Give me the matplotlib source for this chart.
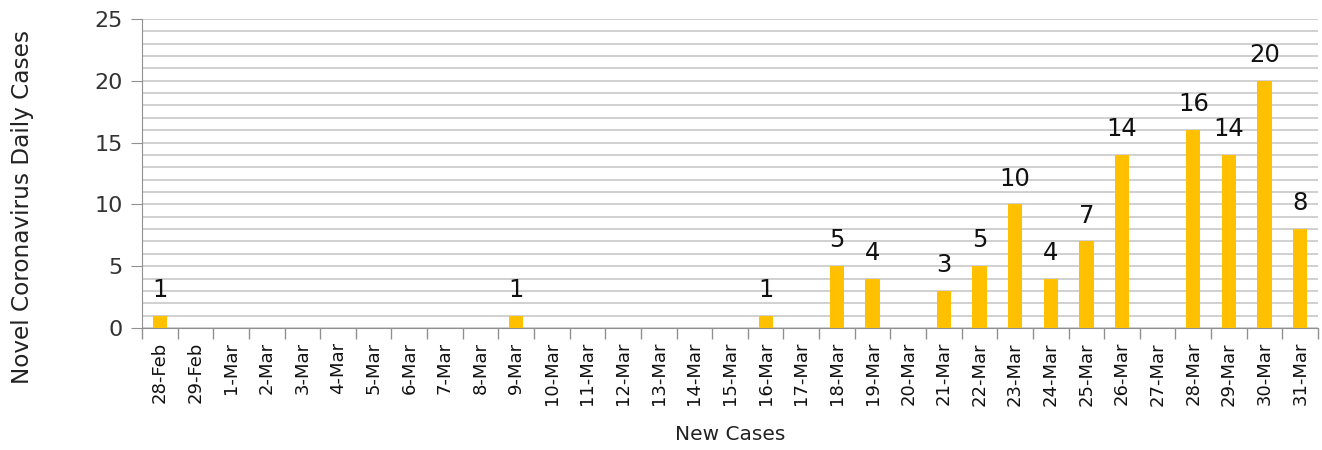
import numpy as np
import matplotlib.pyplot as plt
from matplotlib.ticker import MultipleLocator

dates = ["28-Feb", "29-Feb"] + ["%d-Mar" % d for d in range(1, 32)]
cases = [1, 0, 0, 0, 0, 0, 0, 0, 0, 0, 1, 0, 0, 0, 0, 0, 0, 1, 0,
         5, 4, 0, 3, 5, 10, 4, 7, 14, 0, 16, 14, 20, 8]

plt.rcParams['font.family'] = ['DejaVu Sans']

fig = plt.figure(figsize=(13.22, 4.5), dpi=100)
ax = fig.add_axes([0.1074, 0.271, 0.8896, 0.687])

x = np.arange(len(dates))
bars = ax.bar(x, cases, width=0.4, color='#FFC000', zorder=3)

# value labels only where there were cases
for xi, v in zip(x, cases):
    if v > 0:
        ax.annotate(str(v), (xi, v), xytext=(0, 10), textcoords='offset points',
                    ha='center', va='bottom', fontsize=17.5, color='#111111')

ax.set_xlim(-0.5, len(dates) - 0.5)
ax.set_ylim(0, 25)
ax.yaxis.set_major_locator(MultipleLocator(5))
ax.yaxis.set_minor_locator(MultipleLocator(1))
ax.grid(axis='y', which='both', color='#c8c8c8', linewidth=1.2, zorder=0)

ax.set_xticks(x)
ax.set_xticklabels(dates, rotation=90, fontsize=13, color='#111111')
ax.set_xticks(np.arange(-0.5, len(dates), 1), minor=True)
ax.tick_params(axis='x', which='major', length=0, pad=10)
ax.tick_params(axis='x', which='minor', length=8, color='#909090', width=1)
ax.tick_params(axis='y', which='major', length=8, color='#909090', labelsize=16, labelcolor='#333333', pad=6)
ax.tick_params(axis='y', which='minor', length=0)

for s in ['top', 'right']:
    ax.spines[s].set_visible(False)
ax.spines['left'].set_color('#909090')
ax.spines['bottom'].set_color('#909090')

ax.set_ylabel('Novel Coronavirus Daily Cases', fontsize=16.7, color='#222222')
ax.yaxis.set_label_coords(-0.092, 0.39)
ax.set_xlabel('New Cases', fontsize=14.5, color='#222222')
ax.xaxis.set_label_coords(0.5, -0.315)

fig.savefig('out.png', dpi=100)
